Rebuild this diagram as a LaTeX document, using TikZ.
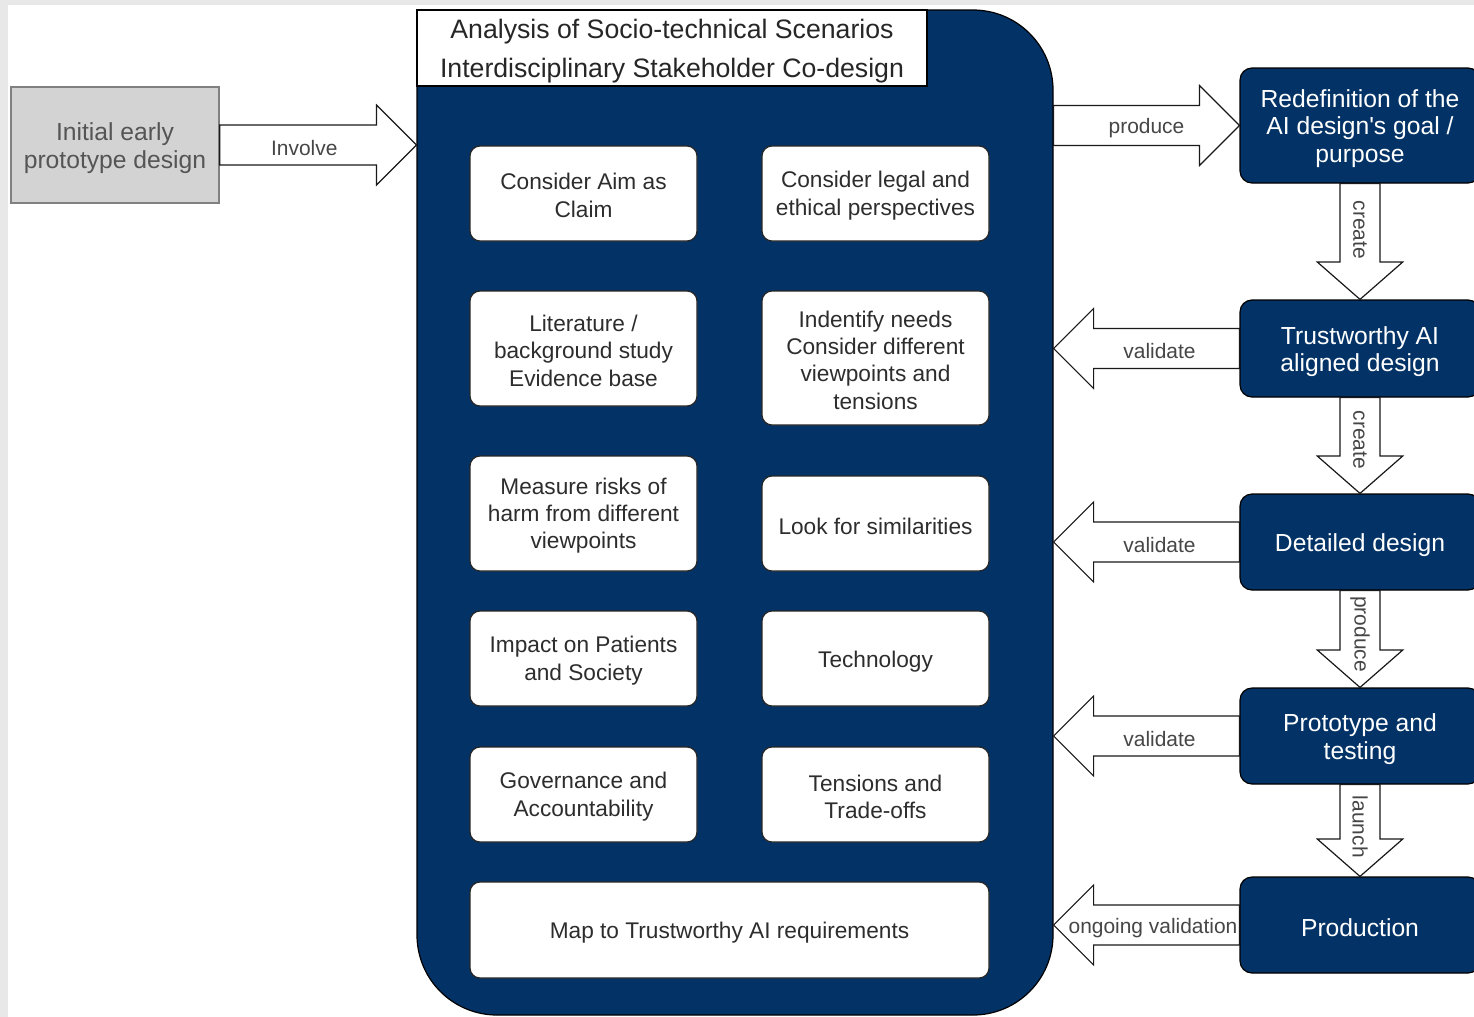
\documentclass[tikz,border=0pt]{standalone}
\usepackage{fontspec}
\setmainfont{Liberation Sans}
\usetikzlibrary{calc,fit}
\definecolor{navy}{RGB}{3,51,102}
\definecolor{bgstrip}{RGB}{232,232,232}
\definecolor{inittxt}{RGB}{85,85,85}
\definecolor{initfill}{RGB}{211,211,211}
\definecolor{initline}{RGB}{128,128,128}
\definecolor{innertxt}{RGB}{45,45,45}
\definecolor{lbltxt}{RGB}{70,70,70}

\newcommand\sA{\rule{0pt}{15.5pt}}
\newcommand\sAA{\rule{0pt}{17pt}}
\newcommand\sB{\rule{0pt}{18pt}}
\newcommand\sC{\rule{0pt}{19pt}}

\newcommand\harrow[5]{%
  \draw[blockarrow] let \p1=(#1), \p2=(#2), \p3=($(#2)!30pt!(#1)$) in
    (\x1,\y1+15pt) -- (\x3,\y1+15pt) -- (\x3,\y1+30pt) -- (\x2,\y2)
    -- (\x3,\y1-30pt) -- (\x3,\y1-15pt) -- (\x1,\y1-15pt) -- cycle;
  \node[lbl, yshift=-2.25pt] (#5) at ($(#1)!#4!(#2)$) {#3};
}
\newcommand\varrow[5]{%
  \draw[blockarrow] let \p1=(#1), \p2=(#2), \p3=($(#2)!28pt!(#1)$) in
    (\x1+15pt,\y1) -- (\x1+15pt,\y3) -- (\x1+32pt,\y3) -- (\x2,\y2)
    -- (\x1-32pt,\y3) -- (\x1-15pt,\y3) -- (\x1-15pt,\y1) -- cycle;
  \node[lbl, rotate=-90] (#5) at ($(#1)!#4!(#2)$) {#3};
}

\begin{document}
\begin{tikzpicture}[x=0.75pt,y=-0.75pt,
  corebox/.style={draw=black, line width=0.9pt, fill=navy, rounded corners=60pt, inner sep=0pt},
  titlebox/.style={draw=black, line width=0.9pt, fill=white, inner sep=0pt, align=center,
    font=\fontsize{20}{29.25}\selectfont, text=black!85, minimum width=382.5pt, minimum height=57pt},
  innerbox/.style={draw=black!85, line width=0.9pt, fill=white, rounded corners=7.5pt,
    inner sep=0pt, align=center, text=innertxt, font=\fontsize{17}{20.6}\selectfont,
    minimum width=170.25pt, minimum height=71.25pt},
  initbox/.style={draw=initline, line width=1pt, fill=initfill, inner sep=0pt, align=center,
    text=inittxt, font=\fontsize{18.5}{21}\selectfont, minimum width=156pt, minimum height=87pt},
  stagebox/.style={draw=black, line width=0.9pt, fill=navy, rounded corners=9pt, inner sep=0pt,
    align=center, text=white, font=\fontsize{18.5}{20.6}\selectfont,
    minimum width=180pt, minimum height=72pt},
  blockarrow/.style={draw=black!90, line width=0.9pt, fill=white, line join=miter},
  lbl/.style={inner sep=0pt, text=lbltxt, font=\fontsize{15.7}{18}\selectfont}
]
\useasboundingbox (0,0) rectangle (1474,1017);
\fill[bgstrip] (0,0) rectangle (1474,1017);
\fill[white] (8,5) rectangle (1474,1017);

% main container
\node[corebox, fit={(417,10) (1053,1015)}] (core) {};
\node[titlebox] (title) at (672,48)
  {\sC Analysis of Socio-technical Scenarios\\Interdisciplinary Stakeholder Co-design};

% inner activity boxes
\node[innerbox] (aim) at (583.5,193.5) {\sA Consider Aim as\\Claim};
\node[innerbox] (legal) at (875.5,193.5) {\sA Consider legal and\\ethical perspectives};
\node[innerbox, minimum height=86.25pt] (lit) at (583.5,348.5) {\sA Literature /\\background study\\Evidence base};
\node[innerbox, minimum height=100.5pt] (needs) at (875.5,358) {\sA Indentify needs\\Consider different\\viewpoints and\\tensions};
\node[innerbox, minimum height=86.25pt] (risk) at (583.5,513.5) {\sA Measure risks of\\harm from different\\viewpoints};
\node[innerbox] (sim) at (875.5,523.5) {\sAA Look for similarities};
\node[innerbox] (impact) at (583.5,658.5) {\sA Impact on Patients\\and Society};
\node[innerbox] (tech) at (875.5,658.5) {\sAA Technology};
\node[innerbox] (gov) at (583.5,794.5) {\sA Governance and\\Accountability};
\node[innerbox] (tens) at (875.5,794.5) {\sA Tensions and\\Trade-offs};
\node[innerbox, minimum width=389.25pt, minimum height=72pt] (map) at (729.5,930) {\sAA Map to Trustworthy AI requirements};

% initial design
\node[initbox] (init) at (115,145) {\sB Initial early\\prototype design};

% stages
\node[stagebox, minimum height=86.25pt] (redef) at (1360,125.5) {\sB Redefinition of the\\AI design\textquotesingle s goal /\\purpose};
\node[stagebox, minimum height=72.75pt] (trust) at (1360,348.5) {\sB Trustworthy AI\\aligned design};
\node[stagebox] (detail) at (1360,542) {\sB Detailed design};
\node[stagebox] (proto) at (1360,736) {\sB Prototype and\\testing};
\node[stagebox] (prod) at (1360,925) {\sB Production};

% connectors
\harrow{init.east}{core.west |- init.east}{Involve}{0.43}{linvolve}
\harrow{core.east |- redef.west}{redef.west}{produce}{0.5}{lproduce}
\harrow{trust.west}{core.east |- trust.west}{validate}{0.43}{lval1}
\harrow{detail.west}{core.east |- detail.west}{validate}{0.43}{lval2}
\harrow{proto.west}{core.east |- proto.west}{validate}{0.43}{lval3}
\harrow{prod.west}{core.east |- prod.west}{ongoing validation}{0.465}{lval4}

\varrow{redef.south}{trust.north}{create}{0.40}{lcreate1}
\varrow{trust.south}{detail.north}{create}{0.44}{lcreate2}
\varrow{detail.south}{proto.north}{produce}{0.45}{lproduce2}
\varrow{proto.south}{prod.north}{launch}{0.46}{llaunch}
\end{tikzpicture}
\end{document}
